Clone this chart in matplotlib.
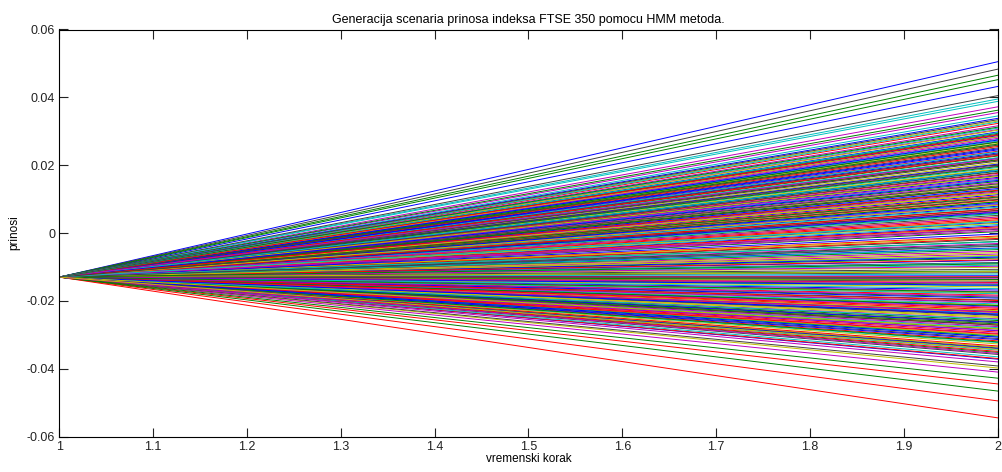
# Scenario generation plot (HMM) - MATLAB style fan of returns
import matplotlib
matplotlib.use("Agg")
import matplotlib.pyplot as plt

# time steps and the common starting return
steps = [1, 2]
start_return = -0.013

# end returns, one row per colour cycle (b, g, r, c, m, y, k)
end_returns = [
    0.0505, 0.0465, -0.0545, 0.0395, 0.0372, -0.0398, 0.0483,
    0.0432, 0.0452, -0.0495, 0.0388, 0.0355, 0.0118, 0.0405,
    -0.0372, 0.0362, -0.0445, 0.0345, -0.0410, -0.0212, -0.0392,
    0.0021, -0.0466, -0.0370, -0.0365, -0.0380, 0.0264, -0.0087,
    0.0287, -0.0428, 0.0043, -0.0156, 0.0305, -0.0301, 0.0187,
    -0.0243, 0.0152, -0.0318, 0.0276, -0.0054, 0.0093, -0.0197,
    0.0236, -0.0112, 0.0067, -0.0279, 0.0198, -0.0336, 0.0011,
    -0.0168, 0.0294, -0.0226, 0.0128, -0.0031, -0.0265, 0.0251,
    0.0079, -0.0304, 0.0215, -0.0095, 0.0172, 0.0036, -0.0142,
    -0.0288, 0.0058, -0.0183, 0.0309, -0.0253, 0.0143, -0.0019,
    0.0164, -0.0231, 0.0269, -0.0068, 0.0104, -0.0327, 0.0221,
    -0.0126, 0.0227, -0.0009, -0.0209, 0.0283, -0.0159, 0.0052,
    0.0298, -0.0074, 0.0135, 0.0025, -0.0296, 0.0207, -0.0241,
    -0.0044, 0.0182, -0.0271, 0.0086, -0.0135, 0.0258, -0.0311,
    0.0113, -0.0189, 0.0241, -0.0323, 0.0063, -0.0101, 0.0169,
    -0.0216, 0.0004, -0.0146, 0.0193, -0.0219, 0.0048, 0.0291,
    0.0248, -0.0283, 0.0097, -0.0037, 0.0232, -0.0249, -0.0117,
    -0.0081, 0.0124, -0.0333, 0.0271, -0.0172, 0.0015, 0.0139,
    0.0031, -0.0258, 0.0176, -0.0121, 0.0084, 0.0303, -0.0203,
    0.0203, -0.0025, -0.0292, 0.0158, -0.0062, -0.0177, 0.0072,
    -0.0314, 0.0268, 0.0109, -0.0237, 0.0148, -0.0058, 0.0233,
    0.0131, -0.0151, -0.0016, 0.0056, -0.0276, 0.0189, -0.0107,
    -0.0192, 0.0216, -0.0234, -0.0089, 0.0279, 0.0101, -0.0262,
    0.0061, -0.0049, 0.0255, -0.0306, 0.0007, -0.0139, 0.0178,
    -0.0264, 0.0092, -0.0129, 0.0222, -0.0205, 0.0284, -0.0034,
    0.0184, -0.0321, 0.0039, -0.0164, 0.0121, -0.0246, 0.0212,
    -0.0071, 0.0262, -0.0199, 0.0076, -0.0287, -0.0012, 0.0145,
    0.0274, -0.0137, 0.0018, 0.0239, -0.0098, -0.0229, 0.0066,
    -0.0154, 0.0196, -0.0298, -0.0046, 0.0161, 0.0029, -0.0272,
    0.0089, -0.0214, 0.0229, -0.0179, 0.0047, 0.0116, -0.0339,
    -0.0003, 0.0136, -0.0079, 0.0296, -0.0232, -0.0114, 0.0201,
    0.0245, -0.0268, 0.0071, -0.0026, -0.0186, 0.0167, -0.0131,
    -0.0307, 0.0106, -0.0222, 0.0185, 0.0013, -0.0066, 0.0259,
    0.0155, -0.0091, 0.0289, -0.0255, -0.0148, 0.0082, -0.0039,
    -0.0239, -0.0174, 0.0126, 0.0034, 0.0219, -0.0282, 0.0099,
    0.0338, -0.0352, 0.0323, -0.0345, 0.0316, 0.0330, -0.0358,
    -0.0341, 0.0312, -0.0349, 0.0327, -0.0355, -0.0343, 0.0334,
]

# old MATLAB default colour order
matlab_colors = ["#0000ff", "#008000", "#ff0000", "#00bfbf",
                 "#bf00bf", "#bfbf00", "#404040"]

x_ticks = [1, 1.1, 1.2, 1.3, 1.4, 1.5, 1.6, 1.7, 1.8, 1.9, 2]
y_ticks = [-0.06, -0.04, -0.02, 0, 0.02, 0.04, 0.06]

plt.rcParams['font.family'] = ['Liberation Sans', 'DejaVu Sans']
plt.rcParams['font.size'] = 9

fig = plt.figure(figsize=(10.03, 4.72), dpi=100)
ax = fig.add_axes([0.0591, 0.0752, 0.9356, 0.8623])

for i, end in enumerate(end_returns):
    ax.plot(steps, [start_return, end], color=matlab_colors[i % 7], lw=0.7)

ax.set_xlim(1, 2)
ax.set_ylim(-0.06, 0.06)
ax.set_xticks(x_ticks)
ax.set_xticklabels([str(t) for t in x_ticks])
ax.set_yticks(y_ticks)
ax.set_yticklabels(["-0.06", "-0.04", "-0.02", "0", "0.02", "0.04", "0.06"])
ax.tick_params(direction='in', length=6.5, width=0.8, top=True, right=True,
               colors='#222222', labelsize=9, pad=3)
for s in ax.spines.values():
    s.set_linewidth(0.8)

ax.set_title("Generacija scenaria prinosa indeksa FTSE 350 pomocu HMM metoda.",
             fontsize=9, pad=5)
ax.set_xlabel("vremenski korak", fontsize=8.5, labelpad=0)
ax.set_ylabel("prinosi", fontsize=8.5, labelpad=5)

fig.savefig("out.png", dpi=100)
